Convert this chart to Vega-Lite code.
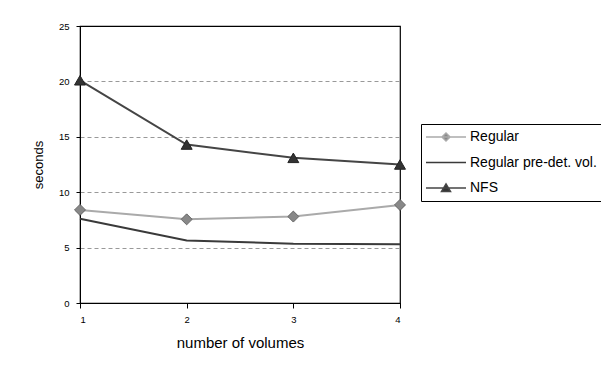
{
  "$schema": "https://vega.github.io/schema/vega-lite/v6.json",
  "width": 320,
  "height": 277,
  "autosize": {"type": "none"},
  "padding": {"left": 80, "top": 26, "right": 201, "bottom": 74},
  "background": "white",
  "config": {
    "view": {"stroke": "#000000", "strokeWidth": 1.2},
    "font": "Liberation Sans",
    "axis": {
      "labelFont": "Liberation Sans",
      "titleFont": "Liberation Sans",
      "labelColor": "#000000",
      "titleColor": "#000000",
      "domainColor": "#000000",
      "tickColor": "#000000",
      "titleFontWeight": "normal"
    }
  },
  "data": {
    "values": [
      {"series": "Regular", "volumes": 1, "seconds": 8.4},
      {"series": "Regular", "volumes": 2, "seconds": 7.55},
      {"series": "Regular", "volumes": 3, "seconds": 7.8},
      {"series": "Regular", "volumes": 4, "seconds": 8.85},
      {"series": "Regular pre-det. vol.", "volumes": 1, "seconds": 7.6},
      {"series": "Regular pre-det. vol.", "volumes": 2, "seconds": 5.65},
      {"series": "Regular pre-det. vol.", "volumes": 3, "seconds": 5.35},
      {"series": "Regular pre-det. vol.", "volumes": 4, "seconds": 5.3},
      {"series": "NFS", "volumes": 1, "seconds": 20.1},
      {"series": "NFS", "volumes": 2, "seconds": 14.3},
      {"series": "NFS", "volumes": 3, "seconds": 13.1},
      {"series": "NFS", "volumes": 4, "seconds": 12.5}
    ]
  },
  "encoding": {
    "x": {
      "field": "volumes",
      "type": "quantitative",
      "scale": {"domain": [1, 4], "nice": false, "zero": false},
      "axis": {
        "title": "number of volumes",
        "values": [1, 2, 3, 4],
        "format": "d",
        "grid": false,
        "tickSize": 5,
        "labelFontSize": 9.5,
        "labelPadding": 6,
        "titleFontSize": 15,
        "titlePadding": 12
      }
    },
    "y": {
      "field": "seconds",
      "type": "quantitative",
      "scale": {"domain": [0, 25], "nice": false},
      "axis": {
        "title": "seconds",
        "values": [0, 5, 10, 15, 20, 25],
        "grid": true,
        "gridColor": "#999999",
        "gridDash": [4, 3],
        "gridWidth": 1,
        "gridOpacity": {"condition": {"test": "datum.value === 25 || datum.value === 0", "value": 0}, "value": 1},
        "tickSize": 4,
        "labelFontSize": 9.5,
        "labelPadding": 7,
        "titleFontSize": 13,
        "titlePadding": 13
      }
    }
  },
  "layer": [
    {
      "mark": {"type": "line", "strokeWidth": 2},
      "encoding": {
        "color": {
          "field": "series",
          "type": "nominal",
          "scale": {
            "domain": ["Regular", "Regular pre-det. vol.", "NFS"],
            "range": ["#aaaaaa", "#3a3a3a", "#454545"]
          },
          "legend": {
            "title": null,
            "orient": "none",
            "legendX": 341,
            "legendY": 98,
            "strokeColor": "#000000",
            "fillColor": "white",
            "padding": 6,
            "labelFont": "Liberation Sans",
            "labelFontSize": 14,
            "labelColor": "#000000",
            "labelOffset": 29,
            "rowPadding": 11.5,
            "symbolSize": 100,
            "symbolStrokeWidth": 1.5,
            "encode": {
              "symbols": {
                "update": {
                  "shape": {"signal": "datum.value === 'Regular' ? 'M-1.6,0H6.4M2.4,-0.8L3.2,0L2.4,0.8L1.6,0Z' : datum.value === 'NFS' ? 'M-1.6,0H6.4M2.4,-0.8L3.3,0.7L1.5,0.7Z' : 'M-1.6,0H6.4'"},
                  "fill": {"signal": "datum.value === 'Regular' ? '#888888' : '#333333'"},
                  "size": {"value": 100},
                  "strokeWidth": {"value": 1.5}
                }
              }
            }
          }
        },
        "detail": {"field": "series"}
      }
    },
    {
      "transform": [{"filter": "datum.series !== 'Regular pre-det. vol.'"}],
      "mark": {"type": "point", "filled": true, "opacity": 1, "strokeWidth": 1},
      "encoding": {
        "shape": {
          "field": "series",
          "type": "nominal",
          "scale": {"domain": ["Regular", "NFS"], "range": ["diamond", "triangle-up"]},
          "legend": null
        },
        "fill": {
          "field": "series",
          "type": "nominal",
          "scale": {"domain": ["Regular", "NFS"], "range": ["#888888", "#333333"]},
          "legend": null
        },
        "stroke": {
          "field": "series",
          "type": "nominal",
          "scale": {"domain": ["Regular", "NFS"], "range": ["#666666", "#222222"]},
          "legend": null
        },
        "size": {"value": 120}
      }
    }
  ]
}
